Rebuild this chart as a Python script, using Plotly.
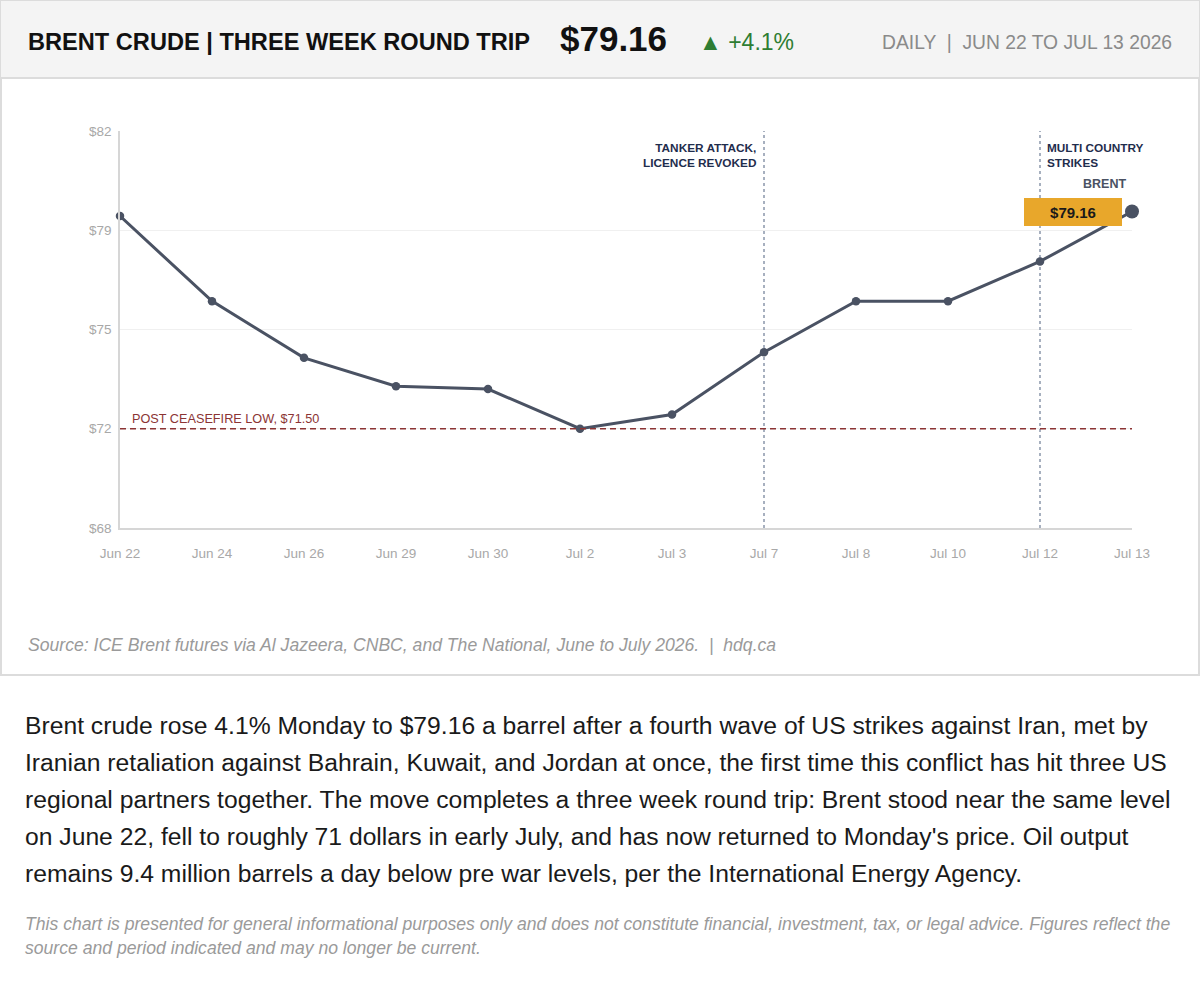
import plotly.graph_objects as go

# Data
dates = ["Jun 22", "Jun 24", "Jun 26", "Jun 29", "Jun 30", "Jul 2",
         "Jul 3", "Jul 7", "Jul 8", "Jul 10", "Jul 12", "Jul 13"]
prices = [79.0, 76.0, 74.0, 73.0, 72.9, 71.5, 72.0, 74.2, 76.0, 76.0, 77.4, 79.16]

y_ticks = [68, 71.5, 75, 78.5, 82]
y_tick_labels = ["$68", "$72", "$75", "$79", "$82"]

ceasefire_low = 71.50
event_dates = ["Jul 7", "Jul 12"]
event_labels = ["TANKER ATTACK,<br>LICENCE REVOKED", "MULTI COUNTRY<br>STRIKES"]

body_lines = [
    "Brent crude rose 4.1% Monday to $79.16 a barrel after a fourth wave of US strikes against Iran, met by",
    "Iranian retaliation against Bahrain, Kuwait, and Jordan at once, the first time this conflict has hit three US",
    "regional partners together. The move completes a three week round trip: Brent stood near the same level",
    "on June 22, fell to roughly 71 dollars in early July, and has now returned to Monday's price. Oil output",
    "remains 9.4 million barrels a day below pre war levels, per the International Energy Agency.",
]
disclaimer_lines = [
    "This chart is presented for general informational purposes only and does not constitute financial, investment, tax, or legal advice. Figures reflect the",
    "source and period indicated and may no longer be current.",
]

W, H = 1200, 1001
FONT = "Liberation Sans, Arial, sans-serif"
LINE = "#4a5263"
NAVY = "#1f2d4d"
RED = "#8b3434"


def px(x):
    return x / W


def py(y):
    return 1 - y / H


fig = go.Figure()

fig.add_trace(go.Scatter(
    x=dates, y=prices, mode="lines+markers",
    line=dict(color=LINE, width=3),
    marker=dict(color=LINE, size=[8.5] * (len(dates) - 1) + [14], opacity=1,
                line=dict(width=0, color=LINE)),
    cliponaxis=False, hoverinfo="x+y", showlegend=False,
))

shapes = [
    # card border and header band
    dict(type="rect", xref="paper", yref="paper", x0=px(1), x1=px(1199), y0=py(675), y1=py(1),
         line=dict(color="#dcdcdc", width=2), fillcolor="rgba(0,0,0,0)", layer="below"),
    dict(type="rect", xref="paper", yref="paper", x0=px(1), x1=px(1199), y0=py(78), y1=py(1),
         line=dict(width=0), fillcolor="#f4f4f4", layer="below"),
    dict(type="line", xref="paper", yref="paper", x0=px(1), x1=px(1199), y0=py(78), y1=py(78),
         line=dict(color="#dcdcdc", width=2)),
    # ceasefire low
    dict(type="line", xref="paper", yref="y", x0=px(120), x1=px(1132), y0=ceasefire_low, y1=ceasefire_low,
         line=dict(color=RED, width=1.5, dash="6px,4px"), layer="above"),
]
for d in event_dates:
    i = dates.index(d)
    shapes.append(dict(type="line", xref="x", yref="y", x0=i, x1=i, y0=68, y1=82,
                       line=dict(color="#8a96aa", width=1.5, dash="3px,3px"), layer="between"))

annotations = [
    dict(text="<b>BRENT CRUDE | THREE WEEK ROUND TRIP</b>", x=px(26), y=py(42), xanchor="left",
         font=dict(size=23.6, color="#111")),
    dict(text="<b>$79.16</b>", x=px(558), y=py(38), xanchor="left", font=dict(size=35, color="#111")),
    dict(text="▲ +4.1%", x=px(697), y=py(42), xanchor="left", font=dict(size=23, color="#2e7d32")),
    dict(text="DAILY  |  JUN 22 TO JUL 13 2026", x=px(1174), y=py(43), xanchor="right",
         font=dict(size=19.3, color="#8a8a8a")),
    dict(text="POST CEASEFIRE LOW, $71.50", x=px(130), y=py(419), xanchor="left",
         font=dict(size=12.7, color=RED)),
    dict(text="<b>BRENT</b>", x=px(1104), y=py(184), xanchor="center", font=dict(size=12.5, color=LINE)),
    dict(text="<b>$79.16</b>", xref="x", yref="y", x=len(dates) - 1, y=prices[-1],
         xanchor="right", xshift=-10, showarrow=False, width=92, height=22, borderpad=2,
         bgcolor="#e8a72b", bordercolor="#e8a72b", font=dict(size=15, color="#1a1a1a")),
    dict(text="<i>Source: ICE Brent futures via Al Jazeera, CNBC, and The National, June to July 2026.  |  hdq.ca</i>",
         x=px(26), y=py(645), xanchor="left", font=dict(size=17.6, color="#9a9a9a")),
]
for d, lab, side in zip(event_dates, event_labels, ["right", "left"]):
    i = dates.index(d)
    annotations.append(dict(text="<b>" + lab + "</b>", xref="x", yref="paper", x=i, y=py(139),
                            xanchor=side, yanchor="top", align=side,
                            xshift=-5 if side == "right" else 5,
                            font=dict(size=11.8, color=NAVY)))
for k, line in enumerate(body_lines):
    annotations.append(dict(text=line, x=px(23), y=py(725 + 37 * k), xanchor="left",
                            font=dict(size=24.7, color="#1a1a1a")))
for k, line in enumerate(disclaimer_lines):
    annotations.append(dict(text="<i>" + line + "</i>", x=px(23), y=py(924 + 24 * k), xanchor="left",
                            font=dict(size=17.6, color="#9a9a9a")))

for a in annotations:
    a.setdefault("xref", "paper")
    a.setdefault("yref", "paper")
    a.setdefault("showarrow", False)
    a.setdefault("yanchor", "middle")

fig.update_layout(
    width=W, height=H,
    margin=dict(l=0, r=0, t=0, b=0, autoexpand=False),
    paper_bgcolor="white", plot_bgcolor="white",
    font=dict(family=FONT),
    shapes=shapes, annotations=annotations,
    xaxis=dict(domain=[px(120), px(1132)], range=[0, len(dates) - 1], type="category",
               showgrid=False, showline=True, linecolor="#d6d6d6", linewidth=1.5,
               ticks="", ticklabelstandoff=12, tickfont=dict(size=13.5, color="#a8a8a8"), fixedrange=True),
    yaxis=dict(domain=[py(528), py(131)], range=[68, 82], tickvals=y_ticks, ticktext=y_tick_labels,
               showgrid=True, gridcolor="#f0f0f0", gridwidth=1, zeroline=False,
               showline=True, linecolor="#d6d6d6", linewidth=1.5,
               ticks="", ticklabelstandoff=4, tickfont=dict(size=13.5, color="#a8a8a8"), fixedrange=True),
    hovermode="closest",
)

fig.write_html("out.html", config={"displayModeBar": False},
               post_script="document.body.style.margin='0';")
